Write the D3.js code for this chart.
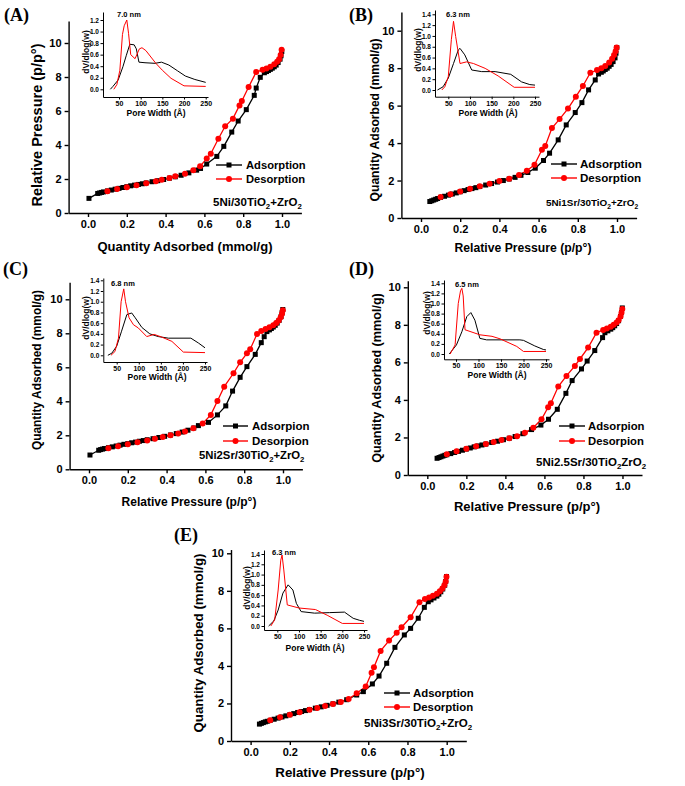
<!DOCTYPE html>
<html><head><meta charset="utf-8">
<script src="https://cdn.jsdelivr.net/npm/d3@7"></script>
<style>body{margin:0;background:#fff;} svg{display:block;}</style>
</head><body>
<svg id="chart" width="685" height="786"></svg>
<script>
// ---------------- DATA ----------------
const xTicksMain = [0, 0.2, 0.4, 0.6, 0.8, 1.0];
const yTicksMain = [0, 2, 4, 6, 8, 10];
const insetXTicks = [50, 100, 150, 200, 250];
const insetYTicksA = [0, 0.2, 0.4, 0.6, 0.8, 1.0, 1.2];
const insetYTicks = [0, 0.2, 0.4, 0.6, 0.8, 1.0, 1.2, 1.4];

const panelLetters = ["(A)", "(B)", "(C)", "(D)", "(E)"];
const sampleNames = ["5Ni/30TiO_2+ZrO_2", "5Ni1Sr/30TiO_2+ZrO_2", "5Ni2Sr/30TiO_2+ZrO_2", "5Ni2.5Sr/30TiO_2ZrO_2", "5Ni3Sr/30TiO_2+ZrO_2"];
const peakLabels = ["7.0 nm", "6.3 nm", "6.8 nm", "6.5 nm", "6.3 nm"];
const adsLegend = ["Adsorption", "Adsorption", "Adsorpion", "Adsorpion", "Adsorption"];
const desLegend = ["Desorption", "Desorption", "Desorpion", "Desorpion", "Desorption"];
const xTitles = ["Quantity Adsorbed (mmol/g)", "Relative Pressure (p/p°)", "Relative Pressure (p/p°)", "Relative Pressure (p/p°)", "Relative Pressure (p/p°)"];
const yTitles = ["Relative Pressure (p/p°)", "Quantity Adsorbed (mmol/g)", "Quantity Adsorbed (mmol/g)", "Quantity Adsorbed (mmol/g)", "Quantity Adsorbed (mmol/g)"];
const insetXTitle = "Pore Width (Å)";
const insetYTitle = "dV/dlog(w)";

// Panel A isotherm
const aAdsP = [0.005,0.05,0.06,0.07,0.08,0.1,0.12,0.14,0.16,0.18,0.2,0.22,0.24,0.26,0.28,0.3,0.33,0.36,0.39,0.42,0.45,0.48,0.52,0.56,0.58,0.612,0.664,0.70,0.741,0.774,0.816,0.857,0.867,0.888,0.909,0.92,0.93,0.94,0.95,0.96,0.97,0.98,0.99,0.995,0.999];
const aAdsQ = [0.86,1.15,1.18,1.21,1.24,1.3,1.35,1.4,1.45,1.5,1.55,1.6,1.64,1.68,1.72,1.77,1.84,1.9,1.97,2.05,2.13,2.22,2.36,2.52,2.62,2.88,3.33,3.92,4.76,5.41,6.08,6.92,7.35,7.98,8.25,8.32,8.38,8.45,8.52,8.6,8.7,8.85,9.05,9.25,9.5];
const aDesP = [0.1,0.15,0.2,0.25,0.3,0.35,0.38,0.42,0.45,0.5,0.543,0.578,0.612,0.633,0.672,0.707,0.747,0.781,0.793,0.828,0.867,0.9,0.92,0.94,0.96,0.975,0.985,0.993,0.998];
const aDesQ = [1.28,1.41,1.52,1.63,1.75,1.87,1.95,2.06,2.16,2.31,2.52,2.75,3.2,3.49,4.37,5.1,5.55,6.33,6.59,7.41,8.29,8.42,8.5,8.6,8.75,8.9,9.05,9.3,9.6];
// Panel B isotherm
const bAdsP = [0.045,0.055,0.065,0.075,0.085,0.1,0.12,0.14,0.16,0.18,0.2,0.22,0.24,0.26,0.28,0.3,0.33,0.36,0.39,0.42,0.45,0.48,0.51,0.545,0.583,0.625,0.656,0.70,0.741,0.787,0.821,0.855,0.889,0.906,0.92,0.93,0.94,0.95,0.96,0.97,0.98,0.99,0.995,0.999];
const bAdsQ = [0.88,0.92,0.96,1.0,1.04,1.1,1.16,1.22,1.28,1.34,1.4,1.46,1.52,1.57,1.62,1.68,1.76,1.84,1.92,2.0,2.08,2.17,2.28,2.43,2.66,3.07,3.46,4.17,4.97,5.63,6.16,6.84,7.37,7.69,7.78,7.85,7.93,8.0,8.1,8.2,8.35,8.55,8.8,9.1];
const bDesP = [0.1,0.15,0.2,0.25,0.3,0.35,0.4,0.45,0.5,0.54,0.579,0.617,0.634,0.668,0.707,0.75,0.79,0.826,0.864,0.898,0.92,0.94,0.96,0.975,0.985,0.993,0.998];
const bDesQ = [1.12,1.27,1.42,1.56,1.7,1.83,1.97,2.1,2.3,2.52,2.84,3.64,3.85,4.8,5.28,5.84,6.48,7.05,7.76,7.9,8.0,8.12,8.3,8.5,8.7,8.9,9.1];
// Panel C isotherm
const cAdsP = [0.005,0.05,0.06,0.07,0.08,0.1,0.12,0.14,0.16,0.18,0.2,0.22,0.24,0.26,0.28,0.3,0.33,0.36,0.39,0.42,0.45,0.48,0.51,0.54,0.564,0.616,0.662,0.705,0.74,0.779,0.814,0.857,0.888,0.903,0.917,0.93,0.94,0.95,0.96,0.97,0.98,0.99,0.995,0.999];
const cAdsQ = [0.84,1.12,1.16,1.19,1.22,1.27,1.32,1.37,1.42,1.47,1.51,1.56,1.6,1.65,1.69,1.74,1.8,1.87,1.94,2.02,2.1,2.19,2.3,2.43,2.57,2.76,3.2,3.73,4.6,5.41,6.04,6.76,7.45,7.8,8.1,8.2,8.28,8.37,8.47,8.6,8.76,8.98,9.2,9.4];
const cDesP = [0.1,0.15,0.2,0.25,0.3,0.34,0.38,0.42,0.46,0.495,0.538,0.586,0.628,0.662,0.697,0.745,0.779,0.814,0.831,0.866,0.888,0.91,0.93,0.95,0.965,0.978,0.988,0.995,0.999];
const cDesQ = [1.24,1.36,1.48,1.59,1.7,1.8,1.9,2.0,2.1,2.22,2.41,2.7,3.2,4.02,4.86,5.65,6.29,6.82,7.06,7.96,8.14,8.25,8.35,8.47,8.6,8.75,8.95,9.15,9.35];
// Panel D isotherm
const dAdsP = [0.05,0.06,0.07,0.08,0.09,0.1,0.12,0.14,0.16,0.18,0.2,0.22,0.24,0.26,0.28,0.3,0.33,0.36,0.39,0.42,0.45,0.49,0.534,0.582,0.621,0.666,0.71,0.742,0.79,0.819,0.858,0.898,0.91,0.925,0.94,0.95,0.96,0.97,0.98,0.99,0.995,0.999];
const dAdsQ = [0.89,0.93,0.97,1.01,1.05,1.08,1.14,1.2,1.26,1.32,1.38,1.44,1.5,1.55,1.6,1.65,1.73,1.8,1.88,1.96,2.05,2.2,2.42,2.66,2.97,3.5,4.35,5.03,5.65,6.07,6.63,7.32,7.58,7.68,7.77,7.85,7.95,8.07,8.22,8.45,8.65,8.9];
const dDesP = [0.1,0.15,0.2,0.25,0.3,0.34,0.38,0.42,0.46,0.5,0.543,0.585,0.619,0.633,0.671,0.713,0.756,0.782,0.824,0.867,0.901,0.92,0.94,0.955,0.97,0.98,0.99,0.995,0.999];
const dDesQ = [1.1,1.26,1.4,1.53,1.65,1.76,1.86,1.96,2.07,2.25,2.52,2.97,3.61,3.82,4.71,5.28,5.81,6.18,6.79,7.58,7.73,7.8,7.9,8.0,8.12,8.25,8.45,8.65,8.85];
// Panel E isotherm
const eAdsP = [0.045,0.055,0.065,0.075,0.085,0.1,0.12,0.14,0.16,0.18,0.2,0.22,0.24,0.26,0.28,0.3,0.33,0.36,0.39,0.42,0.45,0.49,0.541,0.575,0.621,0.655,0.694,0.736,0.784,0.816,0.855,0.886,0.906,0.92,0.935,0.95,0.96,0.97,0.98,0.99,0.995,0.999];
const eAdsQ = [0.9,0.94,0.98,1.02,1.05,1.1,1.16,1.22,1.28,1.34,1.4,1.46,1.52,1.57,1.62,1.67,1.75,1.82,1.9,1.98,2.07,2.2,2.45,2.63,3.04,3.46,4.14,4.99,5.65,6.0,6.54,7.12,7.42,7.52,7.62,7.72,7.82,7.95,8.1,8.3,8.5,8.76];
const eDesP = [0.1,0.15,0.2,0.25,0.3,0.34,0.38,0.42,0.46,0.5,0.541,0.587,0.617,0.629,0.663,0.706,0.745,0.77,0.816,0.861,0.889,0.91,0.93,0.95,0.965,0.978,0.988,0.995,0.999];
const eDesQ = [1.1,1.26,1.4,1.53,1.66,1.76,1.86,1.97,2.08,2.24,2.54,2.9,3.64,3.93,4.8,5.35,5.77,6.06,6.59,7.39,7.57,7.65,7.74,7.85,7.98,8.12,8.3,8.5,8.75];

// Pore size distributions (insets)
const aPsdAdsW = [30,36,48,59,67,75,85,90,96,110,133,148,165,185,203,225,250];
const aPsdAdsV = [0,0.05,0.16,0.39,0.59,0.78,0.77,0.7,0.47,0.46,0.45,0.47,0.42,0.32,0.23,0.17,0.12];
const aPsdDesW = [38,45,52,58,62,68,72,77,87,97,103,112,135,150,170,200,250];
const aPsdDesV = [0,0.08,0.33,0.95,1.1,1.2,0.97,0.6,0.53,0.7,0.72,0.67,0.45,0.33,0.19,0.06,0.05];
const bPsdAdsW = [25,38,50,62,73,77,88,104,127,158,194,219,238,250];
const bPsdAdsV = [0,0.06,0.22,0.49,0.74,0.77,0.65,0.37,0.34,0.34,0.29,0.15,0.1,0.09];
const bPsdDesW = [35,42,50,57,62,67,77,92,108,135,165,202,250];
const bPsdDesV = [0,0.06,0.25,0.93,1.27,0.99,0.49,0.52,0.49,0.4,0.26,0.05,0.05];
const cPsdAdsW = [30,39,50,61,73,84,92,107,125,144,167,218,235,250];
const cPsdAdsV = [0,0.04,0.17,0.45,0.76,0.79,0.7,0.52,0.4,0.35,0.32,0.32,0.23,0.14];
const cPsdDesW = [37,46,54,60,66,70,78,88,99,118,135,152,175,201,250];
const cPsdDesV = [0,0.07,0.32,1.0,1.24,1.0,0.7,0.57,0.51,0.35,0.39,0.34,0.26,0.06,0.05];
const dPsdAdsW = [35,51,63,74,83,92,103,118,192,200,225,244,250];
const dPsdAdsV = [0,0.18,0.44,0.74,0.82,0.67,0.31,0.28,0.28,0.27,0.16,0.09,0.08];
const dPsdDesW = [37,48,55,60,63,66,70,103,130,148,185,200,250];
const dPsdDesV = [0,0.18,1.0,1.25,1.3,1.15,0.48,0.38,0.35,0.3,0.15,0.05,0.05];
const ePsdAdsW = [30,42,52,63,75,86,94,105,136,170,205,225,240,250];
const ePsdAdsV = [0,0.1,0.31,0.64,0.8,0.7,0.44,0.28,0.25,0.26,0.27,0.15,0.11,0.09];
const ePsdDesW = [35,44,52,58,61,65,73,100,138,165,200,250];
const ePsdDesV = [0,0.12,0.7,1.28,1.38,1.09,0.41,0.35,0.32,0.21,0.05,0.05];

// ---------------- LAYOUT ----------------
const FONT = "'Liberation Sans', Arial, Helvetica, sans-serif";
const RED = "#ff0000";
const zip = (a, b) => a.map((v, i) => [v, b[i]]);

const panels = [
  { ads: zip(aAdsP, aAdsQ), des: zip(aDesP, aDesQ), psdA: zip(aPsdAdsW, aPsdAdsV), psdD: zip(aPsdDesW, aPsdDesV), iyTicks: insetYTicksA,
    L: 68.6, R: 301.4, B: 213, y10: 43, ymax: 11.3,
    letter: [4, 21], xt: [185, 251, 13], yt: [37, 125, 14.5],
    leg: [216, 242, 165, 179, 246, 11.2], samp: [213, 206, 11.5],
    ins: { L: 103, R: 208, p50: 119, p250: 205.7, B: 97, T: 12, y0: 89.3, yv: 1.2, yvp: 20, peak: [129, 17], xt: [156, 116], yt: [86, 52] } },
  { ads: zip(bAdsP, bAdsQ), des: zip(bDesP, bDesQ), psdA: zip(bPsdAdsW, bPsdAdsV), psdD: zip(bPsdDesW, bPsdDesV), iyTicks: insetYTicks,
    L: 401.4, R: 636.6, B: 218, y10: 30.7, ymax: 11,
    letter: [349, 21], xt: [523, 252, 12.2], yt: [375, 120, 12.1],
    leg: [551, 577, 164, 178, 580, 11.6], samp: [546, 206, 9.9],
    ins: { L: 435, R: 539, p50: 448.3, p250: 535, B: 96.7, T: 10, y0: 90, yv: 1.4, yvp: 14.3, peak: [458, 17], xt: [488, 116], yt: [418, 50] } },
  { ads: zip(cAdsP, cAdsQ), des: zip(cDesP, cDesQ), psdA: zip(cPsdAdsW, cPsdAdsV), psdD: zip(cPsdDesW, cPsdDesV), iyTicks: insetYTicks,
    L: 69.6, R: 302.4, B: 469.3, y10: 299.3, ymax: 11,
    letter: [3, 275], xt: [189, 506, 12], yt: [37, 370, 11.9],
    leg: [223, 248, 426, 441, 252, 11.5], samp: [199, 459, 11.3],
    ins: { L: 103.3, R: 207, p50: 116.7, p250: 205, B: 362, T: 278, y0: 355.3, yv: 1.4, yvp: 280.3, peak: [123, 286], xt: [157, 380], yt: [86, 318] } },
  { ads: zip(dAdsP, dAdsQ), des: zip(dDesP, dDesQ), psdA: zip(dPsdAdsW, dPsdAdsV), psdD: zip(dPsdDesW, dPsdDesV), iyTicks: insetYTicks,
    L: 407.8, R: 642, B: 475, y10: 287.3, ymax: 10.35,
    letter: [349, 275], xt: [527, 511, 13], yt: [377, 378, 12.6],
    leg: [559, 585, 426, 441, 588, 11.3], samp: [536, 466, 11.5],
    ins: { L: 444, R: 549, p50: 456, p250: 546, B: 359.3, T: 280, y0: 354, yv: 1.4, yvp: 283.3, peak: [467, 287], xt: [497, 378], yt: [427, 313] } },
  { ads: zip(eAdsP, eAdsQ), des: zip(eDesP, eDesQ), psdA: zip(ePsdAdsW, ePsdAdsV), psdD: zip(ePsdDesW, ePsdDesV), iyTicks: insetYTicks,
    L: 231, R: 466.3, B: 741, y10: 553.3, ymax: 10.2,
    letter: [174, 541], xt: [350, 777, 13.3], yt: [198, 643, 13.3],
    leg: [384, 410, 693, 707, 413, 11.4], samp: [364, 727, 11.6],
    ins: { L: 264, R: 367, p50: 277.3, p250: 364, B: 630, T: 550, y0: 626, yv: 1.4, yvp: 554, peak: [284, 555], xt: [315, 651], yt: [247, 588] } }
];

const svg = d3.select("#chart");
svg.append("rect").attr("width", 685).attr("height", 786).attr("fill", "#fff");

function subText(sel, str, fs) {
  const parts = str.split(/(_\d)/).filter(s => s.length);
  let prevSub = false;
  parts.forEach(pt => {
    if (pt.startsWith("_")) {
      sel.append("tspan").attr("font-size", fs * 0.68).attr("dy", fs * 0.28).text(pt.slice(1));
      prevSub = true;
    } else {
      sel.append("tspan").attr("font-size", fs).attr("dy", prevSub ? -fs * 0.28 : 0).text(pt);
      prevSub = false;
    }
  });
}

function styleAxis(g, fs, sw) {
  g.select(".domain").attr("stroke", "#000").attr("stroke-width", sw);
  g.selectAll(".tick line").attr("stroke", "#000").attr("stroke-width", sw);
  g.selectAll(".tick text").attr("font-family", FONT).attr("font-weight", "bold").attr("font-size", fs).attr("fill", "#000");
}

panels.forEach((p, i) => {
  const g = svg.append("g");
  const x = d3.scaleLinear().domain([-0.1, 1.1]).range([p.L, p.R]);
  const y = d3.scaleLinear().domain([0, 10]).range([p.B, p.y10]);
  const yTop = y(p.ymax);

  // axes
  const gx = g.append("g").attr("transform", `translate(0,${p.B})`)
    .call(d3.axisBottom(x).tickValues(xTicksMain).tickFormat(d3.format(".1f")).tickSize(4).tickSizeOuter(0).tickPadding(3));
  styleAxis(gx, 11, 1.4);
  const yAx = d3.scaleLinear().domain([0, p.ymax]).range([p.B, yTop]);
  const gy = g.append("g").attr("transform", `translate(${p.L},0)`)
    .call(d3.axisLeft(yAx).tickValues(yTicksMain).tickFormat(d3.format("d")).tickSize(4).tickSizeOuter(0).tickPadding(3));
  styleAxis(gy, 11, 1.4);

  // lines and markers
  const line = d3.line().x(d => x(d[0])).y(d => y(d[1]));
  g.append("path").datum(p.ads).attr("d", line).attr("fill", "none").attr("stroke", "#000").attr("stroke-width", 1.3);
  g.append("path").datum(p.des).attr("d", line).attr("fill", "none").attr("stroke", RED).attr("stroke-width", 1.3);
  g.selectAll(".sq").data(p.ads).join("rect")
    .attr("x", d => x(d[0]) - 2.5).attr("y", d => y(d[1]) - 2.5).attr("width", 5).attr("height", 5).attr("fill", "#000");
  g.selectAll(".ci").data(p.des).join("circle")
    .attr("cx", d => x(d[0])).attr("cy", d => y(d[1])).attr("r", 3).attr("fill", RED);

  // titles
  g.append("text").attr("x", p.xt[0]).attr("y", p.xt[1]).attr("text-anchor", "middle")
    .attr("font-family", FONT).attr("font-weight", "bold").attr("font-size", p.xt[2]).text(xTitles[i]);
  g.append("text").attr("transform", `translate(${p.yt[0]},${p.yt[1]}) rotate(-90)`).attr("text-anchor", "middle").attr("dy", "0.35em")
    .attr("font-family", FONT).attr("font-weight", "bold").attr("font-size", p.yt[2]).text(yTitles[i]);
  g.append("text").attr("x", p.letter[0]).attr("y", p.letter[1])
    .attr("font-family", "'Liberation Serif', 'Times New Roman', serif").attr("font-weight", "bold").attr("font-size", 18).text(panelLetters[i]);

  // legend
  const [lx0, lx1, ly1, ly2, tx, lfs] = p.leg;
  const lg = g.append("g");
  [[ly1, "#000", adsLegend[i], "sq"], [ly2, RED, desLegend[i], "ci"]].forEach(([ly, col, txt, m]) => {
    lg.append("line").attr("x1", lx0).attr("x2", lx1).attr("y1", ly).attr("y2", ly).attr("stroke", col).attr("stroke-width", 1.4);
    const mx = (lx0 + lx1) / 2;
    if (m === "sq") lg.append("rect").attr("x", mx - 2.5).attr("y", ly - 2.5).attr("width", 5).attr("height", 5).attr("fill", col);
    else lg.append("circle").attr("cx", mx).attr("cy", ly).attr("r", 3).attr("fill", col);
    lg.append("text").attr("x", tx).attr("y", ly).attr("dy", "0.36em").attr("font-family", FONT).attr("font-weight", "bold").attr("font-size", lfs).text(txt);
  });
  const st = g.append("text").attr("x", p.samp[0]).attr("y", p.samp[1]).attr("font-family", FONT).attr("font-weight", "bold");
  subText(st, sampleNames[i], p.samp[2]);

  // inset
  const s = p.ins;
  const ix = d3.scaleLinear().domain([50, 250]).range([s.p50, s.p250]);
  const iy = d3.scaleLinear().domain([0, s.yv]).range([s.y0, s.yvp]);
  const ixAxisScale = d3.scaleLinear().domain([ix.invert(s.L), ix.invert(s.R)]).range([s.L, s.R]);
  const iyAxisScale = d3.scaleLinear().domain([iy.invert(s.B), iy.invert(s.T)]).range([s.B, s.T]);
  const ig = g.append("g");
  const igx = ig.append("g").attr("transform", `translate(0,${s.B})`)
    .call(d3.axisBottom(ixAxisScale).tickValues(insetXTicks).tickFormat(d3.format("d")).tickSize(2.5).tickSizeOuter(0).tickPadding(1.5));
  styleAxis(igx, 7, 1);
  const igy = ig.append("g").attr("transform", `translate(${s.L},0)`)
    .call(d3.axisLeft(iyAxisScale).tickValues(p.iyTicks).tickFormat(d3.format(".1f")).tickSize(2.5).tickSizeOuter(0).tickPadding(1.5));
  styleAxis(igy, 6.5, 1);
  const iline = d3.line().x(d => ix(d[0])).y(d => iy(d[1]));
  ig.append("path").datum(p.psdA).attr("d", iline).attr("fill", "none").attr("stroke", "#000").attr("stroke-width", 1);
  ig.append("path").datum(p.psdD).attr("d", iline).attr("fill", "none").attr("stroke", RED).attr("stroke-width", 1);
  ig.append("text").attr("x", s.peak[0]).attr("y", s.peak[1]).attr("text-anchor", "middle")
    .attr("font-family", FONT).attr("font-weight", "bold").attr("font-size", 7.5).text(peakLabels[i]);
  ig.append("text").attr("x", s.xt[0]).attr("y", s.xt[1]).attr("text-anchor", "middle")
    .attr("font-family", FONT).attr("font-weight", "bold").attr("font-size", 8.5).text(insetXTitle);
  ig.append("text").attr("transform", `translate(${s.yt[0]},${s.yt[1]}) rotate(-90)`).attr("text-anchor", "middle").attr("dy", "0.35em")
    .attr("font-family", FONT).attr("font-weight", "bold").attr("font-size", 8.5).text(insetYTitle);
});
</script>
</body></html>
